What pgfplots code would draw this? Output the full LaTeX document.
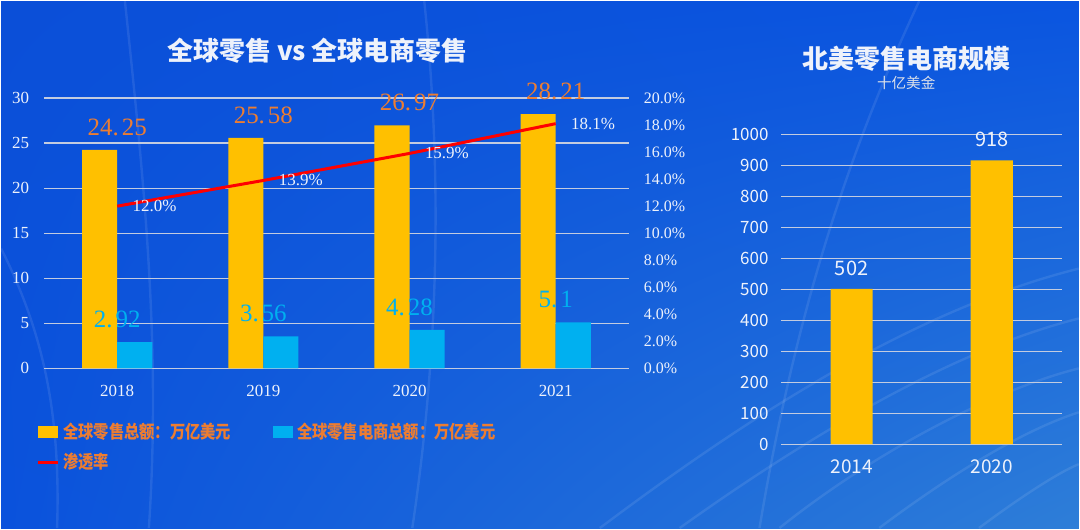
\documentclass[border=0pt]{standalone}
\usepackage{pgfplots}
\pgfplotsset{compat=1.18}
\usetikzlibrary{shadings}
\usepackage{fontspec}
\setmainfont{Liberation Serif}
\newfontfamily\numfont{Liberation Serif}
\newfontfamily\cjk{Noto Sans CJK SC}
\newfontfamily\cjkleg[FakeStretch=0.85]{Noto Sans CJK SC}

\definecolor{bgUL}{HTML}{0B4FD8}
\definecolor{bgUR}{HTML}{0A55E0}
\definecolor{bgLL}{HTML}{0A52DC}
\definecolor{bgLR}{HTML}{2E7ED8}
\definecolor{barYellow}{HTML}{FFC000}
\definecolor{barBlue}{HTML}{00B0F0}
\definecolor{labOrange}{HTML}{ED7D31}
\definecolor{gridC}{HTML}{C3CCE0}
\definecolor{txtW}{HTML}{EEF2FB}

\pgfplotsset{
  base/.style={
    scale only axis,
    anchor=south west,
    axis line style={draw=none},
    major tick length=0pt,
    /pgf/number format/assume math mode=true,
    /pgf/number format/1000 sep={},
    grid style={gridC, line width=0.6pt},
  },
}

\begin{document}
\begin{tikzpicture}
% background
\shade[upper left=bgUL, upper right=bgUR, lower left=bgLL, lower right=bgLR]
  (0pt,0pt) rectangle (540pt,264pt);
% faint decorative curves
\begin{scope}[white, opacity=0.09, line width=1.2pt]
  \draw (62pt,264pt) .. controls (72pt,170pt) and (80pt,90pt) .. (74pt,0pt);
  \draw (212pt,264pt) .. controls (222pt,170pt) and (218pt,80pt) .. (206pt,0pt);
  \draw (460pt,264pt) .. controls (430pt,200pt) and (400pt,120pt) .. (380pt,0pt);
  \draw (300pt,0pt) .. controls (380pt,60pt) and (460pt,110pt) .. (540pt,130pt);
  \draw (340pt,0pt) .. controls (410pt,50pt) and (480pt,90pt) .. (540pt,105pt);
  \draw (390pt,0pt) .. controls (440pt,40pt) and (500pt,70pt) .. (540pt,80pt);
  \draw (440pt,0pt) .. controls (480pt,30pt) and (515pt,50pt) .. (540pt,58pt);
  \draw (490pt,0pt) .. controls (510pt,15pt) and (530pt,28pt) .. (540pt,32pt);
  \draw (0pt,140pt) .. controls (20pt,100pt) and (30pt,60pt) .. (28pt,0pt);
\end{scope}

% left chart: bars
\begin{axis}[base,
  at={(21.5pt,80pt)}, width=293pt, height=135.5pt,
  xmin=-0.5, xmax=3.5, ymin=0, ymax=30,
  ytick={0,5,...,30}, ymajorgrids,
  xtick={0,1,2,3}, xticklabels={2018,2019,2020,2021},
  ticklabel style={txtW, font=\numfont\fontsize{8.5}{10}\selectfont},
  yticklabel style={xshift=-4pt},
  xticklabel style={yshift=-5pt},
  legend columns=2,
  legend style={at={(-0.014,-0.185)}, anchor=north west, draw=none, fill=none,
    inner sep=0pt, font=\cjkleg\bfseries\fontsize{9}{10}\selectfont,
    text=labOrange, row sep=2pt,
    /tikz/every even column/.append style={column sep=19pt}},
  legend cell align=left,
]
\addplot[draw=none, fill=barYellow, ybar, bar width=0.24, bar shift=-0.12,
  nodes near coords={\numfont\pgfmathprintnumber[dec sep={.\kern0.12em}]{\pgfplotspointmeta}},
  every node near coord/.append style={labOrange, anchor=south, inner sep=0pt,
    yshift=7pt, font=\numfont\fontsize{12.5}{14}\selectfont},
  legend image code/.code={\fill[barYellow] (0pt,-3pt) rectangle (10pt,3pt);}]
  coordinates {(0,24.25) (1,25.58) (2,26.97) (3,28.21)};
\addlegendentry{全球零售总额：万亿美元}
\addplot[draw=none, fill=barBlue, ybar, bar width=0.24, bar shift=0.12,
  nodes near coords={\numfont\pgfmathprintnumber[dec sep={.\kern0.12em}]{\pgfplotspointmeta}},
  every node near coord/.append style={barBlue, anchor=south, inner sep=0pt,
    yshift=7pt, font=\numfont\fontsize{12.5}{14}\selectfont},
  legend image code/.code={\fill[barBlue] (0pt,-3pt) rectangle (10pt,3pt);}]
  coordinates {(0,2.92) (1,3.56) (2,4.28) (3,5.1)};
\addlegendentry{全球零售电商总额：万亿美元}
\addlegendimage{legend image code/.code={\draw[red, line width=1.5pt] (0pt,0pt) -- (10pt,0pt);}}
\addlegendentry{渗透率}
\end{axis}

% left chart: penetration rate on the right axis
\begin{axis}[base,
  at={(21.5pt,80pt)}, width=293pt, height=135.5pt,
  xmin=-0.5, xmax=3.5, ymin=0, ymax=20,
  xtick=\empty,
  ytick={0,2,...,20}, yticklabel pos=right,
  yticklabel={\pgfmathprintnumber[fixed,fixed zerofill,precision=1]{\tick}\%},
  yticklabel style={txtW, font=\numfont\fontsize{8}{10}\selectfont, xshift=4pt},
]
\addplot[red, line width=1.5pt, mark=none,
  nodes near coords={\numfont\pgfmathprintnumber[fixed,fixed zerofill,precision=1]{\pgfplotspointmeta}\%},
  every node near coord/.append style={txtW, anchor=west, inner sep=0pt,
    xshift=7pt, yshift=0pt, font=\numfont\fontsize{8.5}{10}\selectfont}]
  coordinates {(0,12.0) (1,13.9) (2,15.9) (3,18.1)};
\end{axis}

% right chart
\begin{axis}[base,
  at={(391pt,42pt)}, width=140.5pt, height=155pt,
  xmin=-0.5, xmax=1.5, ymin=0, ymax=1000,
  ytick={0,100,...,1000}, ymajorgrids,
  xtick={0,1}, xticklabels={2014,2020},
  ticklabel style={txtW},
  yticklabel style={font=\cjk\fontsize{8.5}{10}\selectfont, xshift=-3pt},
  xticklabel style={font=\cjk\fontsize{9.5}{10}\selectfont, yshift=-4pt},
]
\addplot[draw=none, fill=barYellow, ybar, bar width=0.3, bar shift=0,
  nodes near coords,
  every node near coord/.append style={txtW, anchor=south, inner sep=0pt,
    yshift=6.5pt, font=\cjk\fontsize{10}{12}\selectfont}]
  coordinates {(0,502) (1,918)};
\end{axis}

% titles
\node[txtW, font=\cjk\bfseries\fontsize{13}{15}\selectfont] at (158.5pt,239pt)
  {全球零售 vs 全球电商零售};
\node[txtW, font=\cjk\bfseries\fontsize{13}{15}\selectfont] at (453.5pt,235pt)
  {北美零售电商规模};
\node[txtW!85!gray, font=\cjk\fontsize{7.3}{9}\selectfont] at (453.5pt,223pt)
  {十亿美金};
\end{tikzpicture}
\end{document}
